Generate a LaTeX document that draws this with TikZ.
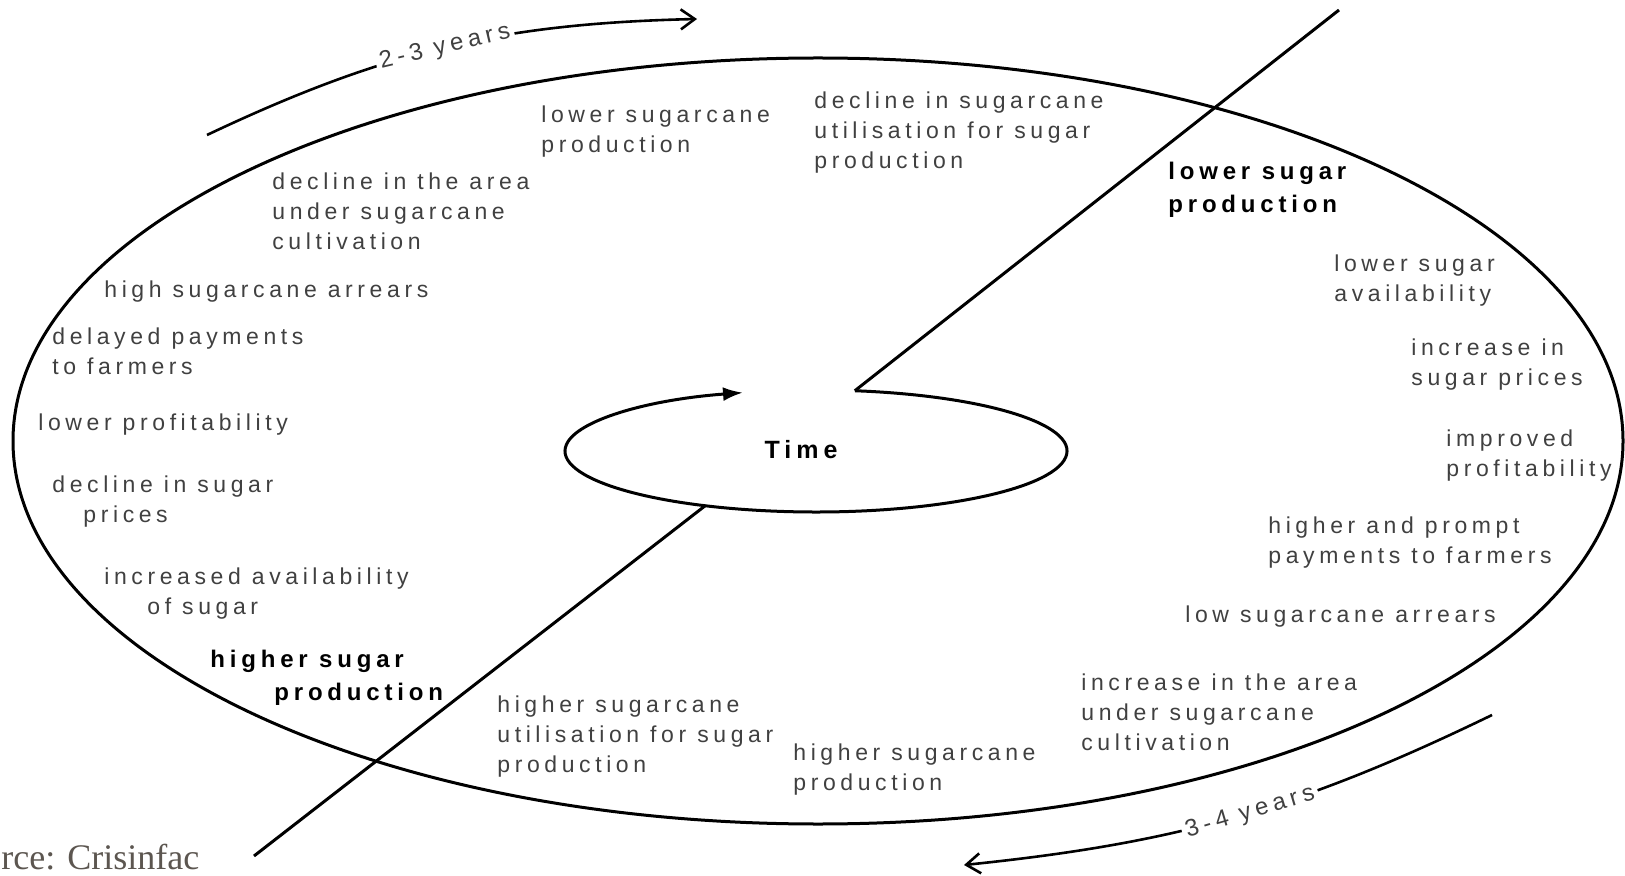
\documentclass[tikz,border=0pt]{standalone}
\usepackage{fontspec}
\setmainfont{Liberation Serif}
\newfontfamily\stagefont[LetterSpace=20]{Liberation Sans}
\usetikzlibrary{arrows.meta}
\definecolor{srcgrey}{RGB}{92,86,80}
\tikzstyle{stagetext}=[anchor=north west,inner sep=0pt,align=left,text=black!75,font=\stagefont\fontsize{11.5}{15}\selectfont]
\tikzstyle{boldtext}=[stagetext,text=black,font=\stagefont\bfseries\fontsize{12}{16.5}\selectfont]
\tikzstyle{loopline}=[draw,line width=1.5pt]
\tikzstyle{period}=[draw,line width=1.3pt,-{Straight Barb[length=7pt,width=10pt]}]
\tikzstyle{periodtext}=[sloped,fill=white,inner sep=2pt,text=black!75,font=\stagefont\fontsize{12}{15}\selectfont]

\begin{document}
\begin{tikzpicture}[x=0.5pt,y=-0.5pt]
    \useasboundingbox (0,0) rectangle (1625,876);

    % outer cycle
    \coordinate (mid) at (818,441);
    \draw[loopline] (mid) ellipse [x radius=805, y radius=383];

    % time loop in the middle
    \node[boldtext,anchor=center,font=\stagefont\bfseries\fontsize{12.5}{14}\selectfont] (time) at (801,450) {Time};
    \coordinate (loopc) at (816,451);
    \path (loopc) ++(-81.1:251 and 61) coordinate (loopstart);
    \path (loopc) ++(116.2:251 and 61) coordinate (loopbottom);
    \draw[loopline,-{Latex[length=10pt,width=7pt]}] (loopstart) arc[start angle=-81.1, end angle=253.1, x radius=251, y radius=61];

    \coordinate (upperend) at (1339,10);
    \coordinate (lowerend) at (254,856);
    \draw[loopline] (loopstart) -- (upperend);
    \draw[loopline] (loopbottom) -- (lowerend);

    % periods
    \coordinate (shortstart) at (207,135);
    \coordinate (shortend) at (697,19);
    \coordinate (longstart) at (1492,715);
    \coordinate (longend) at (964,865);
    \draw[period] (shortstart) to[bend left=12] node[periodtext,pos=0.5] {2-3 years} (shortend);
    \draw[period] (longstart) to[bend left=10] node[periodtext,pos=0.47] {3-4 years} (longend);

    % stages of the cycle
    \foreach \x/\y/\name/\txt in {541/105/lowcane/{lower sugarcane\\production},
        814/91/declutil/{decline in sugarcane\\utilisation for sugar\\production},
        1334/254/lowavail/{lower sugar\\availability},
        1411/338/incprice/{increase in\\sugar prices},
        1446/429/improfit/{improved\\profitability},
        1268/516/promptpay/{higher and prompt\\payments to farmers},
        1185/605/lowarrears/{low sugarcane arrears},
        1081/673/incarea/{increase in the area\\under sugarcane\\cultivation},
        793/743/highcane/{higher sugarcane\\production},
        497/695/highutil/{higher sugarcane\\utilisation for sugar\\production},
        104/567/incavail/{increased availability\\\hspace*{21.5pt}of sugar},
        52/475/declprice/{decline in sugar\\\hspace*{15.5pt}prices},
        38/413/lowprofit/{lower profitability},
        52/327/delaypay/{delayed payments\\to farmers},
        104/280/higharrears/{high sugarcane arrears},
        272/172/declarea/{decline in the area\\under sugarcane\\cultivation}}
        \node[stagetext] (\name) at (\x,\y) {\txt};

    \foreach \x/\y/\name/\txt in {1168/162/lowsugar/{lower sugar\\production},
        210/650/highsugar/{higher sugar\\\hspace*{32pt}production}}
        \node[boldtext] (\name) at (\x,\y) {\txt};

    \node[anchor=base west,inner sep=0pt,text=srcgrey,font=\fontsize{18}{20}\selectfont] (source) at (1,869) {rce: Crisinfac};

\end{tikzpicture}
\end{document}
